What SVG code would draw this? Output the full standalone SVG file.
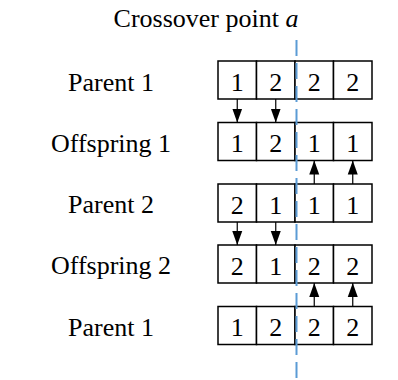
<svg xmlns="http://www.w3.org/2000/svg" width="398" height="380" viewBox="0 0 398 380">
  <style>
    text { font-family: 'Liberation Serif', 'Times New Roman', Times, 'DejaVu Serif', serif; font-size: 26px; fill: #000; text-anchor: middle; }
    .cell { fill: #fff; stroke: #000; stroke-width: 1.5; }
    .arrow { stroke: #000; stroke-width: 1.2; fill: none; marker-end: url(#head); }
    .cut { stroke: #5b9bd5; stroke-width: 2; stroke-dasharray: 16 7; fill: none; }
  </style>
  <defs>
    <marker id="head" markerUnits="userSpaceOnUse" markerWidth="14" markerHeight="12" viewBox="0 0 14 10" refX="14" refY="5" orient="auto">
      <path d="M0,0 L14,5 L0,10 Z" fill="#000"/>
    </marker>
  </defs>

  <text id="title" x="206" y="27" font-family="Liberation Serif, serif">Crossover point <tspan font-style="italic">a</tspan></text>

  <!-- chromosome rows: 4 genes, 38.5 wide, 38 tall -->
  <g id="parent1-top" font-family="Liberation Serif, serif">
    <text x="111" y="90.5">Parent 1</text>
    <rect class="cell" x="218" y="61" width="38.5" height="38"/>
    <rect class="cell" x="256.5" y="61" width="38.5" height="38"/>
    <rect class="cell" x="295" y="61" width="38.5" height="38"/>
    <rect class="cell" x="333.5" y="61" width="38.5" height="38"/>
    <text x="237.25" y="90.5">1</text>
    <text x="275.75" y="90.5">2</text>
    <text x="314.25" y="90.5">2</text>
    <text x="352.75" y="90.5">2</text>
  </g>

  <g id="offspring1">
    <text x="111" y="151.5">Offspring 1</text>
    <rect class="cell" x="218" y="122.5" width="38.5" height="38"/>
    <rect class="cell" x="256.5" y="122.5" width="38.5" height="38"/>
    <rect class="cell" x="295" y="122.5" width="38.5" height="38"/>
    <rect class="cell" x="333.5" y="122.5" width="38.5" height="38"/>
    <text x="237.25" y="152">1</text>
    <text x="275.75" y="152">2</text>
    <text x="314.25" y="152">1</text>
    <text x="352.75" y="152">1</text>
  </g>

  <g id="parent2">
    <text x="111" y="213">Parent 2</text>
    <rect class="cell" x="218" y="184" width="38.5" height="38"/>
    <rect class="cell" x="256.5" y="184" width="38.5" height="38"/>
    <rect class="cell" x="295" y="184" width="38.5" height="38"/>
    <rect class="cell" x="333.5" y="184" width="38.5" height="38"/>
    <text x="237.25" y="213.5">2</text>
    <text x="275.75" y="213.5">1</text>
    <text x="314.25" y="213.5">1</text>
    <text x="352.75" y="213.5">1</text>
  </g>

  <g id="offspring2">
    <text x="111" y="274">Offspring 2</text>
    <rect class="cell" x="218" y="245" width="38.5" height="38"/>
    <rect class="cell" x="256.5" y="245" width="38.5" height="38"/>
    <rect class="cell" x="295" y="245" width="38.5" height="38"/>
    <rect class="cell" x="333.5" y="245" width="38.5" height="38"/>
    <text x="237.25" y="274.5">2</text>
    <text x="275.75" y="274.5">1</text>
    <text x="314.25" y="274.5">2</text>
    <text x="352.75" y="274.5">2</text>
  </g>

  <g id="parent1-bottom">
    <text x="111" y="335.5">Parent 1</text>
    <rect class="cell" x="218" y="306.5" width="38.5" height="38"/>
    <rect class="cell" x="256.5" y="306.5" width="38.5" height="38"/>
    <rect class="cell" x="295" y="306.5" width="38.5" height="38"/>
    <rect class="cell" x="333.5" y="306.5" width="38.5" height="38"/>
    <text x="237.25" y="336">1</text>
    <text x="275.75" y="336">2</text>
    <text x="314.25" y="336">2</text>
    <text x="352.75" y="336">2</text>
  </g>

  <!-- gene inheritance arrows -->
  <g id="connectors">
    <line class="arrow" x1="237.25" y1="99" x2="237.25" y2="122.5"/>
    <line class="arrow" x1="275.75" y1="99" x2="275.75" y2="122.5"/>
    <line class="arrow" x1="314.25" y1="184" x2="314.25" y2="160.5"/>
    <line class="arrow" x1="352.75" y1="184" x2="352.75" y2="160.5"/>
    <line class="arrow" x1="237.25" y1="222" x2="237.25" y2="245"/>
    <line class="arrow" x1="275.75" y1="222" x2="275.75" y2="245"/>
    <line class="arrow" x1="314.25" y1="306.5" x2="314.25" y2="283"/>
    <line class="arrow" x1="352.75" y1="306.5" x2="352.75" y2="283"/>
  </g>

  <!-- crossover cut line -->
  <line id="crossover-line" class="cut" x1="296.5" y1="40" x2="296.5" y2="380"/>
</svg>
